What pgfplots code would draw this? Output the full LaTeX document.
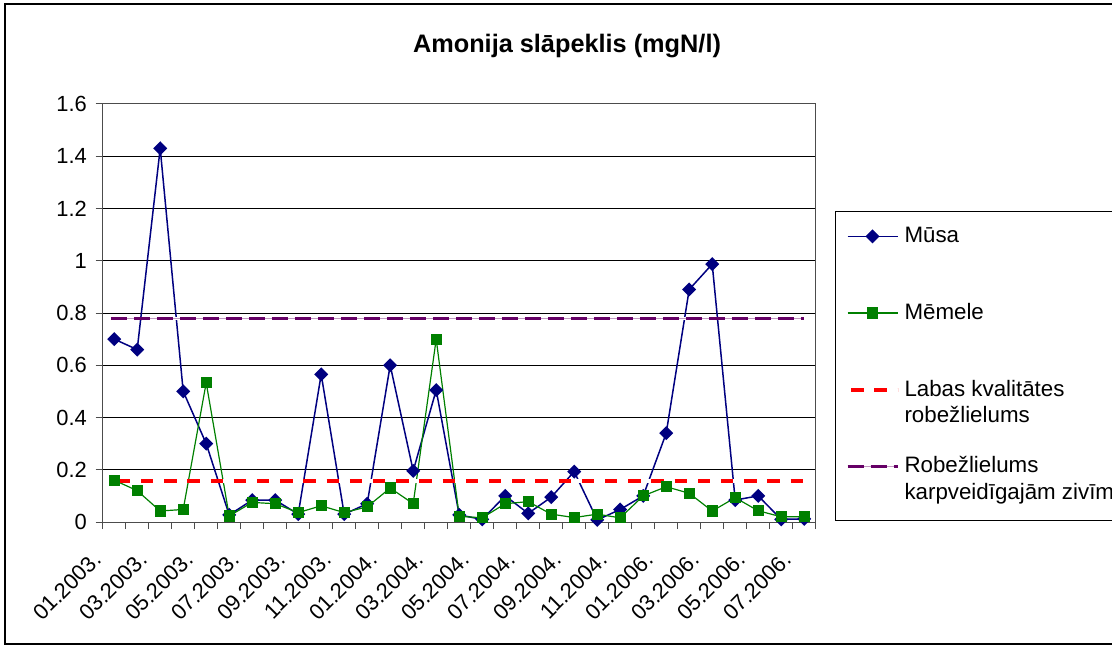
\documentclass[border=0pt]{standalone}
\usepackage{pgfplots}
\pgfplotsset{compat=1.18}
\usepackage{fontspec}
\setmainfont{Liberation Sans}
\definecolor{musa}{RGB}{0,0,128}
\definecolor{memele}{RGB}{0,128,0}
\definecolor{lim}{RGB}{102,0,102}
\definecolor{lred}{RGB}{255,0,0}

\pgfplotstableread{
x musa memele
0 0.70 0.16
1 0.66 0.12
2 1.43 0.042
3 0.50 0.048
4 0.30 0.533
5 0.027 0.023
6 0.084 0.075
7 0.084 0.07
8 0.03 0.036
9 0.565 0.062
10 0.03 0.036
11 0.07 0.058
12 0.60 0.13
13 0.196 0.07
14 0.505 0.70
15 0.027 0.022
16 0.01 0.016
17 0.10 0.07
18 0.033 0.078
19 0.095 0.03
20 0.193 0.017
21 0.008 0.03
22 0.048 0.016
23 0.10 0.10
24 0.34 0.135
25 0.89 0.11
26 0.987 0.042
27 0.084 0.093
28 0.10 0.043
29 0.01 0.02
30 0.012 0.02
}\datatable

\begin{document}
\begin{tikzpicture}
\useasboundingbox (-51.35bp,-63bp) rectangle (504.65bp,261bp);
\begin{axis}[
  scale only axis, width=356.5bp, height=209bp,
  xmin=-0.5, xmax=30.5, ymin=0, ymax=1.6,
  axis line style={black!70, line width=0.5bp},
  /pgf/number format/assume math mode=true,
  ytick={0,0.2,0.4,0.6,0.8,1,1.2,1.4,1.6},
  yticklabels={0,0.2,0.4,0.6,0.8,1,1.2,1.4,1.6},
  ymajorgrids, grid style={black, line width=0.5bp},
  tick pos=left,
  tick align=outside, major tick length=3.5bp, minor tick length=3.5bp,
  tick style={black!70, line width=0.5bp},
  xtick={0,2,...,30},
  xticklabels={01.2003.,03.2003.,05.2003.,07.2003.,09.2003.,11.2003.,01.2004.,03.2004.,05.2004.,07.2004.,09.2004.,11.2004.,01.2006.,03.2006.,05.2006.,07.2006.},
  minor xtick={-0.5,0.5,...,30.5},
  major x tick style={draw=none},
  xticklabel style={font=\fontsize{11}{13}\selectfont, yshift=-16bp, xshift=-5.7bp, rotate=45, anchor=base east, inner sep=0pt},
  yticklabel style={font=\fontsize{11}{13}\selectfont, inner sep=0pt, xshift=-4.2bp},
  legend style={at={(1.02707,0.7447)}, anchor=north west, draw=black, line width=0.5bp, fill=white,
    inner xsep=5bp, inner ysep=7.8bp, row sep=14.3bp, column sep=2.5bp,
    nodes={inner sep=0pt, text height=8bp, text depth=16bp},
    font=\fontsize{11.2}{13.5}\selectfont},
  legend cell align=left,
  legend image code/.code={\draw[mark repeat=2,mark phase=2,#1] plot coordinates {(0bp,7.2bp) (12.5bp,7.2bp) (25bp,7.2bp)};},
]
\addplot[color=musa, line width=0.75bp, mark=square*, mark size=2.1bp, mark options={rotate=45, solid, fill=musa}] table[x=x, y=musa] {\datatable};
\addlegendentry{Mūsa}
\addplot[color=memele, line width=0.6bp, mark=square*, mark size=2.5bp, mark options={solid, fill=memele}] table[x=x, y=memele] {\datatable};
\addlegendentry{Mēmele}
\addplot[color=lred, line width=2bp, dash pattern=on 6.2bp off 5.4bp, dash phase=9.8bp,
  preaction={draw=white, solid, line width=2bp}] coordinates {(0,0.156) (30,0.156)};
\addlegendentry{\parbox[t]{108bp}{Labas kvalitātes\\robežlielums}}
\addplot[color=lim, line width=1.7bp, dash pattern=on 8bp off 3.5bp,
  preaction={draw=white, solid, line width=1.7bp},
  preaction={draw=lim!40, solid, line width=0.6bp}] coordinates {(-0.15,0.78) (30,0.78)};
\addlegendentry{\parbox[t]{108bp}{Robežlielums\\karpveidīgajām zivīm}}
\end{axis}
\node[font=\bfseries\fontsize{12.7}{15}\selectfont, inner sep=0pt] at (232.15bp,238bp) {Amonija slāpeklis (mgN/l)};
\draw[black, line width=0.75bp] (-48.85bp,-61bp) rectangle (515bp,259bp);
\end{tikzpicture}
\end{document}
